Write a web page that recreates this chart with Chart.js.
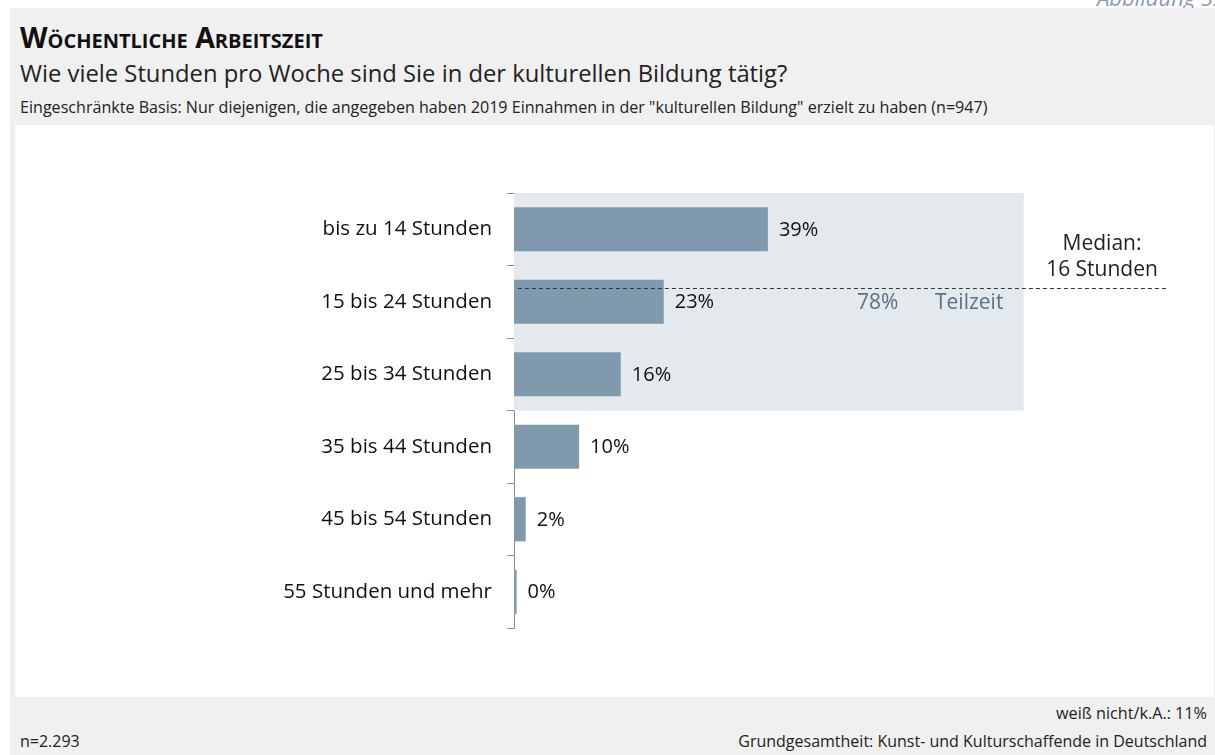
<!DOCTYPE html>
<html>
<head>
<meta charset="utf-8">
<script src="https://cdn.jsdelivr.net/npm/chart.js@4"></script>
<style>
  body { margin: 0; width: 1215px; height: 755px; overflow: hidden; background: #fff; font-family: "Open Sans", sans-serif; }
  .bg { position: absolute; left: 10px; top: 8px; width: 1205px; height: 747px; background: #f0f0f0; }
  .panel { position: absolute; left: 15px; top: 125px; width: 1199px; height: 572px; background: #fff; }
  .txt { position: absolute; white-space: nowrap; color: #222; line-height: 1; }
  canvas { position: absolute; left: 0; top: 0; }
</style>
</head>
<body>
<div class="txt" style="left:1097px; top:-14px; font-size:22px; font-style:italic; color:#8a9bb0;">Abbildung 32</div>
<div class="bg"></div>
<div class="panel"></div>
<div class="txt" style="left:20px; top:23px; font-size:28.5px; font-weight:bold; font-variant:small-caps; color:#111;">Wöchentliche Arbeitszeit</div>
<div class="txt" style="left:20px; top:62px; font-size:23.8px;">Wie viele Stunden pro Woche sind Sie in der kulturellen Bildung tätig?</div>
<div class="txt" style="left:20px; top:99px; font-size:16.1px;">Eingeschränkte Basis: Nur diejenigen, die angegeben haben 2019 Einnahmen in der "kulturellen Bildung" erzielt zu haben (n=947)</div>
<div class="txt" style="right:8px; top:705px; font-size:16.2px;">weiß nicht/k.A.: 11%</div>
<div class="txt" style="left:20px; top:733px; font-size:16px;">n=2.293</div>
<div class="txt" style="right:8px; top:733px; font-size:16px;">Grundgesamtheit: Kunst- und Kulturschaffende in Deutschland</div>
<canvas id="chart" width="1215" height="755"></canvas>
<script>
// Wochenstunden in der kulturellen Bildung
const categories = ['bis zu 14 Stunden', '15 bis 24 Stunden', '25 bis 34 Stunden', '35 bis 44 Stunden', '45 bis 54 Stunden', '55 Stunden und mehr'];
const shares = [39, 23, 16.4, 10, 1.8, 0.4];
const shareLabels = ['39%', '23%', '16%', '10%', '2%', '0%'];
const partTimeShare = 78.3;        // Teilzeit-Box reicht bis 78%
const partTimeRows = 3;            // die ersten drei Kategorien
const medianRow = 0.81;            // Lage der Median-Linie (Kategorie-Index)

const FONT = '"Open Sans", sans-serif';

const decorPlugin = {
    id: 'decor',
    beforeDatasetsDraw(chart) {
        const { ctx, scales: { x, y } } = chart;
        const step = y.getPixelForValue(1) - y.getPixelForValue(0);
        const top = y.getPixelForValue(0) - step / 2;
        const bottom = y.getPixelForValue(partTimeRows - 1) + step / 2;
        ctx.save();
        ctx.fillStyle = '#e4e9ee';
        ctx.fillRect(x.getPixelForValue(0), top, x.getPixelForValue(partTimeShare) - x.getPixelForValue(0), bottom - top);
        ctx.restore();
    },
    afterDatasetsDraw(chart) {
        const { ctx, scales: { x, y } } = chart;
        const meta = chart.getDatasetMeta(0);
        ctx.save();
        ctx.font = '20px ' + FONT;
        ctx.textBaseline = 'middle';
        ctx.fillStyle = '#111';
        ctx.textAlign = 'left';
        meta.data.forEach((bar, i) => {
            ctx.fillText(shareLabels[i], bar.x + 11, bar.y + 1);
        });

        // Median-Linie
        const my = Math.round(y.getPixelForValue(medianRow)) + 0.5;
        ctx.strokeStyle = '#333';
        ctx.lineWidth = 1;
        ctx.setLineDash([4, 3]);
        ctx.beginPath();
        ctx.moveTo(x.getPixelForValue(0.6), my);
        ctx.lineTo(x.getPixelForValue(100.5), my);
        ctx.stroke();
        ctx.setLineDash([]);

        ctx.font = '21px ' + FONT;
        ctx.textAlign = 'center';
        ctx.fillStyle = '#222';
        ctx.fillText('Median:', 1102, 244);
        ctx.fillText('16 Stunden', 1102, 270);

        ctx.fillStyle = '#5b7184';
        ctx.textAlign = 'left';
        const ty = y.getPixelForValue(1) + 1;
        ctx.fillText('78%', 857, ty);
        ctx.fillText('Teilzeit', 935, ty);
        ctx.restore();
    }
};

new Chart(document.getElementById('chart'), {
    type: 'bar',
    data: {
        labels: categories,
        datasets: [{
            data: shares,
            backgroundColor: '#7f9aad',
            borderWidth: 0,
            categoryPercentage: 1,
            barPercentage: 0.61
        }]
    },
    options: {
        indexAxis: 'y',
        responsive: false,
        animation: false,
        layout: { padding: { left: 0, right: 50, top: 193, bottom: 127 } },
        plugins: { legend: { display: false }, tooltip: { enabled: false } },
        scales: {
            x: { display: false, min: 0, max: 100 },
            y: {
                afterFit(scale) { scale.width = 514; },
                border: { display: true, color: '#8c8c8c', width: 1 },
                grid: { drawOnChartArea: false, drawTicks: true, tickLength: 7, color: '#8c8c8c', offset: true },
                ticks: { color: '#111', font: { family: FONT, size: 20.5 }, padding: 15 }
            }
        }
    },
    plugins: [decorPlugin]
});
</script>
</body>
</html>
